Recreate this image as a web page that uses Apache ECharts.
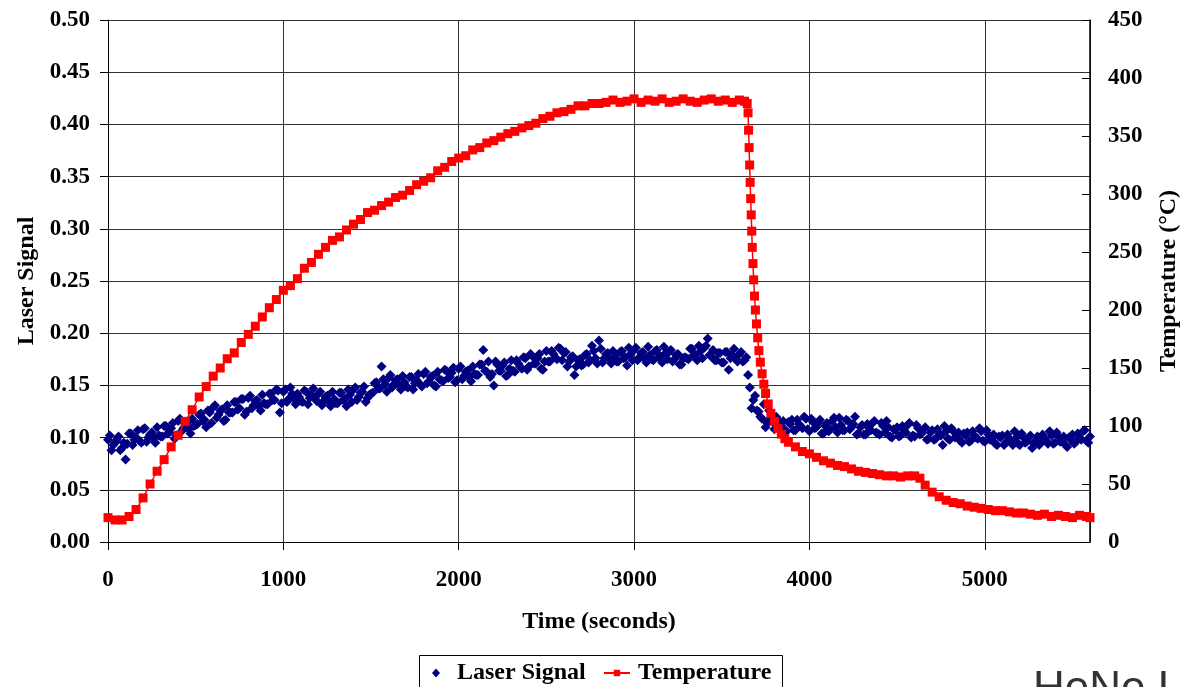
<!DOCTYPE html>
<html><head><meta charset="utf-8">
<script src="https://cdn.jsdelivr.net/npm/echarts@6.0.0/dist/echarts.min.js"></script>
<style>html,body{margin:0;padding:0;background:#fff}#c{width:1182px;height:687px}</style>
</head><body><div id="c"></div>
<script>
// ---- data ----
const seriesNames = ['Laser Signal', 'Temperature'];
const xTitle = 'Time (seconds)';
const leftTitle = 'Laser Signal';
const rightTitle = 'Temperature (°C)';
const noteText = 'HeNe Laser';

// laser signal: readings A at 0,20,40,... s and readings B at 10,30,50,... s
const laserStep = 20;
const laserOffsetB = 10;
const laserValuesA = [
  0.098,0.088,0.095,0.101,0.090, 0.079,0.104,0.093,0.100,0.097, 0.108,0.096,0.103,0.099,0.110, 0.101,0.111,0.104,0.109,0.099,
  0.116,0.106,0.113,0.108,0.118, 0.112,0.122,0.116,0.110,0.124, 0.129,0.119,0.126,0.116,0.131, 0.124,0.134,0.127,0.137,0.122,
  0.138,0.128,0.135,0.130,0.141, 0.132,0.142,0.136,0.146,0.124,
  0.144,0.134,0.148,0.137,0.142, 0.135,0.145,0.132,0.141,0.138, 0.142,0.131,0.139,0.134,0.144, 0.133,0.143,0.136,0.130,0.141,
  0.146,0.136,0.143,0.149,0.138, 0.142,0.152,0.147,0.168,0.151, 0.157,0.148,0.155,0.150,0.159, 0.149,0.158,0.146,0.155,0.151,
  0.161,0.152,0.158,0.150,0.163, 0.155,0.165,0.157,0.162,0.153,
  0.166,0.156,0.163,0.158,0.168, 0.160,0.170,0.184,0.163,0.158, 0.150,0.170,0.164,0.172,0.160, 0.174,0.163,0.171,0.166,0.176,
  0.168,0.178,0.171,0.180,0.165, 0.183,0.173,0.180,0.175,0.185, 0.181,0.168,0.177,0.160,0.174, 0.169,0.179,0.172,0.188,0.176,
  0.193,0.172,0.180,0.175,0.183, 0.173,0.182,0.176,0.169,0.180,
  0.184,0.174,0.181,0.176,0.187, 0.175,0.183,0.177,0.172,0.181, 0.182,0.173,0.179,0.170,0.176, 0.176,0.185,0.179,0.174,0.183,
  0.186,0.195,0.178,0.174,0.181, 0.172,0.182,0.165,0.179,0.175, 0.180,0.173,0.177,0.148,0.136, 0.126,0.120,0.132,0.114,0.119,
  0.108,0.117,0.111,0.106,0.115, 0.117,0.107,0.113,0.109,0.118,
  0.106,0.115,0.110,0.117,0.104, 0.114,0.108,0.119,0.105,0.112, 0.107,0.116,0.110,0.120,0.104, 0.112,0.103,0.109,0.114,0.105,
  0.103,0.111,0.116,0.101,0.108, 0.110,0.102,0.107,0.112,0.100, 0.101,0.109,0.104,0.110,0.099, 0.107,0.099,0.104,0.093,0.106,
  0.098,0.106,0.101,0.097,0.104, 0.105,0.097,0.102,0.099,0.106,
  0.096,0.103,0.099,0.094,0.101, 0.102,0.095,0.099,0.093,0.100, 0.093,0.100,0.096,0.102,0.094, 0.101,0.095,0.099,0.094,0.102,
  0.095,0.101,0.097,0.093,0.100, 0.103,0.096,0.100,0.106,0.097,
  0.101
];
const laserValuesB = [
  0.102,0.093,0.098,0.088,0.095, 0.094,0.104,0.098,0.107,0.095, 0.109,0.100,0.105,0.095,0.102, 0.101,0.111,0.105,0.114,0.102,
  0.118,0.109,0.114,0.104,0.111, 0.113,0.123,0.117,0.126,0.114, 0.131,0.122,0.127,0.117,0.124, 0.124,0.134,0.128,0.137,0.125,
  0.140,0.131,0.136,0.126,0.133, 0.132,0.142,0.136,0.145,0.133,
  0.146,0.137,0.142,0.132,0.139, 0.134,0.144,0.138,0.147,0.135, 0.144,0.135,0.140,0.130,0.137, 0.133,0.143,0.137,0.146,0.134,
  0.148,0.139,0.144,0.134,0.141, 0.143,0.153,0.147,0.156,0.144, 0.160,0.151,0.156,0.146,0.153, 0.148,0.158,0.152,0.161,0.149,
  0.163,0.154,0.159,0.149,0.156, 0.154,0.164,0.158,0.167,0.155,
  0.168,0.159,0.164,0.154,0.161, 0.160,0.170,0.164,0.173,0.161, 0.173,0.164,0.169,0.159,0.166, 0.164,0.174,0.168,0.177,0.165,
  0.180,0.171,0.176,0.166,0.173, 0.173,0.183,0.177,0.186,0.174, 0.182,0.173,0.178,0.168,0.175, 0.170,0.180,0.174,0.183,0.171,
  0.185,0.176,0.181,0.171,0.178, 0.173,0.183,0.177,0.186,0.174,
  0.186,0.177,0.182,0.172,0.179, 0.174,0.184,0.178,0.187,0.175, 0.184,0.175,0.180,0.170,0.177, 0.175,0.185,0.179,0.188,0.176,
  0.188,0.179,0.184,0.174,0.181, 0.172,0.182,0.176,0.185,0.173, 0.182,0.174,0.160,0.128,0.140, 0.125,0.118,0.110,0.126,0.115,
  0.120,0.111,0.116,0.106,0.113, 0.107,0.117,0.111,0.120,0.108,
  0.118,0.109,0.114,0.104,0.111, 0.106,0.116,0.110,0.119,0.107, 0.117,0.108,0.113,0.103,0.110, 0.103,0.113,0.107,0.116,0.104,
  0.114,0.105,0.110,0.100,0.107, 0.101,0.111,0.105,0.114,0.102, 0.112,0.103,0.108,0.098,0.105, 0.098,0.108,0.102,0.111,0.099,
  0.109,0.100,0.105,0.095,0.102, 0.096,0.106,0.100,0.109,0.097,
  0.107,0.098,0.103,0.093,0.100, 0.093,0.103,0.097,0.106,0.094, 0.104,0.095,0.100,0.090,0.097, 0.093,0.103,0.097,0.106,0.094,
  0.105,0.096,0.101,0.091,0.098, 0.094,0.104,0.098,0.107,0.095
];

const tempTimes = [
  0,40,80,120,160,200,240,280,320,360,400,440,480,520,560,600,640,680,720,760,
  800,840,880,920,960,1000,1040,1080,1120,1160,1200,1240,1280,1320,1360,1400,1440,1480,1520,1560,
  1600,1640,1680,1720,1760,1800,1840,1880,1920,1960,2000,2040,2080,2120,2160,2200,2240,2280,2320,2360,
  2400,2440,2480,2520,2560,2600,2640,2680,2720,2760,2800,2840,2880,2920,2960,3000,3040,3080,3120,3160,
  3200,3240,3280,3320,3360,3400,3440,3480,3520,3560,3600,3630,
  3645,3650,3653,3656,3659,3662,3665,3668,3671,3674,3678,3682,3687,3692,3698,3705,3712,3720,3730,3740,
  3750,3765,3780,3800,3820,3840,3860,3880,3920,3960,4000,4040,4080,4120,4160,4200,4240,4280,4320,4360,
  4400,4440,4480,4520,4560,4600,4630,4660,4700,4740,4780,4820,4860,4900,4940,4980,5020,5060,5100,5140,
  5180,5220,5260,5300,5340,5380,5420,5460,5500,5540,5580,5600
];
const tempValues = [
  21,19,19,22,28,38,50,61,71,82,92,104,114,125,134,143,150,158,163,172,
  179,186,194,202,209,217,221,227,236,241,248,254,260,263,269,274,278,284,286,290,
  293,297,299,303,308,311,314,320,323,328,331,333,338,340,344,346,349,352,354,357,
  359,361,365,367,370,371,373,376,376,378,378,379,381,379,380,382,379,381,380,382,
  379,380,382,380,379,381,382,380,381,379,381,380,
  378,370,355,340,325,310,296,282,268,254,240,226,212,200,188,176,165,155,145,136,
  128,119,111,104,98,93,89,86,82,78,76,73,70,68,66,65,63,61,60,59,
  58,57,57,56,57,57,55,49,43,39,36,34,33,31,30,29,28,27,27,26,
  25,25,24,23,24,22,23,22,21,23,22,21
];

// ---- chart ----
const FONT = "'Liberation Serif','Times New Roman',serif";
const lblStyle = {fontFamily: FONT, fontWeight: 'bold', fontSize: 23, color: '#000'};
const ttlStyle = {fontFamily: FONT, fontWeight: 'bold', fontSize: 24, color: '#000'};

const laserData = laserValuesA.map((v, i) => [i * laserStep, v])
  .concat(laserValuesB.map((v, i) => [laserOffsetB + i * laserStep, v]));

const chart = echarts.init(document.getElementById('c'), null, {renderer: 'canvas'});
chart.setOption({
  animation: false,
  backgroundColor: '#fff',
  grid: {left: 108, right: 92, top: 20, bottom: 145, containLabel: false, outerBoundsMode: 'none'},
  xAxis: {
    type: 'value', min: 0, max: 5600, interval: 1000,
    axisLine: {show: true, onZero: false, lineStyle: {color: '#000', width: 1}},
    axisTick: {show: true, length: 8, lineStyle: {color: '#000'}},
    axisLabel: Object.assign({margin: 27, showMaxLabel: false, formatter: v => String(v)}, lblStyle),
    splitLine: {show: true, lineStyle: {color: '#333', width: 1}},
    name: xTitle, nameLocation: 'middle', nameGap: 68, nameTextStyle: ttlStyle
  },
  yAxis: [{
    type: 'value', position: 'left', min: 0, max: 0.5, interval: 0.05,
    axisLine: {show: true, lineStyle: {color: '#000', width: 1}},
    axisTick: {show: true, length: 8, lineStyle: {color: '#000'}},
    axisLabel: Object.assign({margin: 18, formatter: v => v.toFixed(2)}, lblStyle),
    splitLine: {show: true, lineStyle: {color: '#333', width: 1}},
    name: leftTitle, nameLocation: 'middle', nameGap: 69, nameRotate: 90, nameTextStyle: ttlStyle
  }, {
    type: 'value', position: 'right', min: 0, max: 450, interval: 50,
    axisLine: {show: true, lineStyle: {color: '#000', width: 1.5}},
    axisTick: {show: true, inside: true, length: 8, lineStyle: {color: '#000'}},
    axisLabel: Object.assign({margin: 18}, lblStyle),
    splitLine: {show: false},
    name: rightTitle, nameLocation: 'middle', nameGap: 67, nameRotate: 90, nameTextStyle: ttlStyle
  }],
  legend: [{
    data: [seriesNames[0]], left: 432, top: 661, padding: 0, selectedMode: false,
    itemWidth: 8, itemHeight: 9, icon: 'diamond',
    textStyle: Object.assign({padding: [0, 0, 0, 12]}, ttlStyle)
  }, {
    data: [seriesNames[1]], left: 603, top: 661, padding: 0, selectedMode: false,
    itemWidth: 26, itemHeight: 8,
    textStyle: Object.assign({padding: [0, 0, 0, 3]}, ttlStyle)
  }],
  graphic: [{
    type: 'rect', left: 419, top: 655, z: 0,
    shape: {width: 363, height: 40},
    style: {fill: '#fff', stroke: '#000', lineWidth: 1}
  }, {
    type: 'text', left: 1033, top: 668,
    style: {text: noteText, font: "44px 'Liberation Sans', Arial, sans-serif", fill: '#333'}
  }],
  series: [{
    name: seriesNames[0], type: 'scatter', yAxisIndex: 0,
    symbol: 'diamond', symbolSize: 10, z: 2,
    itemStyle: {color: '#000080', opacity: 1},
    data: laserData
  }, {
    name: seriesNames[1], type: 'line', yAxisIndex: 1,
    symbol: 'rect', symbolSize: 9, showSymbol: true, showAllSymbol: true, z: 3,
    itemStyle: {color: '#ff0000', opacity: 1},
    lineStyle: {color: '#ff0000', width: 1.5},
    data: tempTimes.map((t, i) => [t, tempValues[i]])
  }]
});
</script>
</body></html>
